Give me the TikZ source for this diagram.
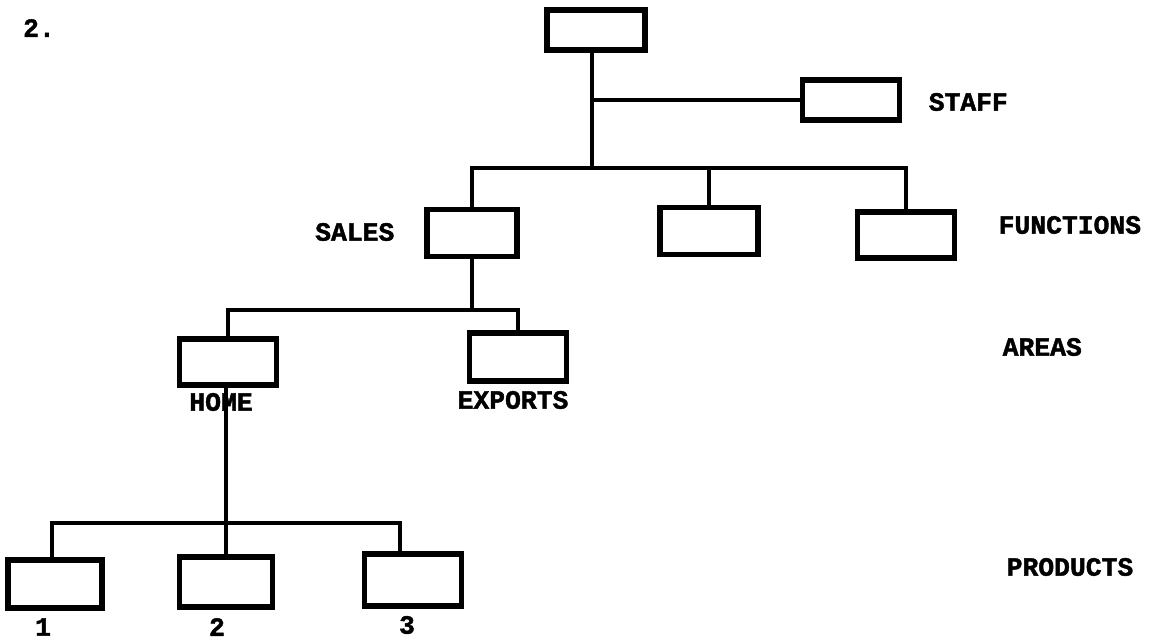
\documentclass[tikz,border=0pt]{standalone}
\usepackage{fontspec}
\setmonofont[BoldFeatures={FakeBold=1.6}]{Liberation Mono}
\usepackage{tikz}
\usetikzlibrary{positioning, calc}
\tikzset{
  orgbox/.style={
    draw, line width=1.5pt, minimum width=0.95cm, minimum height=0.45cm,
    inner sep=0pt, fill=white
  },
  orgline/.style={
    line width=1.1pt
  },
  orglabel/.style={
    font=\ttfamily\bfseries\fontsize{7.5}{8}\selectfont, inner sep=0pt
  },
}
\begin{document}
\begin{tikzpicture}
  \useasboundingbox (0,0) rectangle (11.55,6.37);

  % ── Heading ───────────────────────────────────────────────────
  \node[orglabel] (number) at (0.39, 6.09) {2.};

  % ── Top and staff ─────────────────────────────────────────────
  \node[orgbox, minimum width=0.98cm, minimum height=0.40cm]
    (chief) at (5.96, 6.07) {};
  \node[orgbox, minimum width=0.97cm, minimum height=0.40cm]
    (staff) at (8.51, 5.37) {};
  \node[orglabel, anchor=west] (stafflbl) at (9.28, 5.35) {STAFF};

  \coordinate (fbus) at (5.92, 4.69);
  \draw[orgline] (chief.south -| fbus) -- (fbus);
  \draw[orgline] (fbus |- staff.west) -- (staff.west);

  % ── Functions ─────────────────────────────────────────────────
  \node[orgbox, minimum width=0.90cm, minimum height=0.47cm]
    (sales) at (4.72, 4.04) {};
  \node[orgbox, minimum width=0.98cm, minimum height=0.47cm]
    (funcb) at (7.09, 4.06) {};
  \node[orgbox, minimum width=0.97cm, minimum height=0.46cm]
    (funcc) at (9.06, 4.02) {};
  \node[orglabel, anchor=east] (saleslbl) at (3.95, 4.05) {SALES};
  \node[orglabel, anchor=west] (funclbl) at (9.98, 4.12) {FUNCTIONS};

  \draw[orgline] (sales.north) -- (sales.north |- fbus)
    -- (funcc.north |- fbus) -- (funcc.north);
  \draw[orgline] (funcb.north |- fbus) -- (funcb.north);

  % ── Areas ─────────────────────────────────────────────────────
  \node[orgbox, minimum width=0.97cm, minimum height=0.46cm]
    (home) at (2.28, 2.75) {};
  \node[orgbox, minimum width=0.97cm, minimum height=0.48cm]
    (exports) at (5.18, 2.80) {};
  \node[orglabel] (homelbl) at (2.21, 2.35) {HOME};
  \node[orglabel] (exportslbl) at (5.13, 2.37) {EXPORTS};
  \node[orglabel, anchor=west] (arealbl) at (10.02, 2.90) {AREAS};

  \coordinate (abus) at ($(sales.south)+(0,-0.51)$);
  \draw[orgline] (sales.south) -- (abus);
  \draw[orgline] (home.north) -- (home.north |- abus)
    -- (exports.north |- abus) -- (exports.north);

  % ── Products ──────────────────────────────────────────────────
  \node[orgbox, minimum width=0.94cm, minimum height=0.48cm]
    (prodone) at (0.55, 0.53) {};
  \node[orgbox, minimum width=0.93cm, minimum height=0.50cm]
    (prodtwo) at (2.26, 0.55) {};
  \node[orgbox, minimum width=0.97cm, minimum height=0.52cm]
    (prodthree) at (4.13, 0.57) {};
  \node[orglabel] (onelbl) at (0.43, 0.10) {1};
  \node[orglabel] (twolbl) at (2.17, 0.10) {2};
  \node[orglabel] (threelbl) at (4.07, 0.12) {3};
  \node[orglabel, anchor=west] (prodlbl) at (10.06, 0.70) {PRODUCTS};

  \coordinate (pbus) at (2.26, 1.14);
  \draw[orgline] (home.south -| pbus) -- (prodtwo.north);
  \draw[orgline] ($(prodone.north)+(-0.03,0)$) |- (pbus)
    -| ($(prodthree.north)+(-0.13,0)$);
\end{tikzpicture}
\end{document}
